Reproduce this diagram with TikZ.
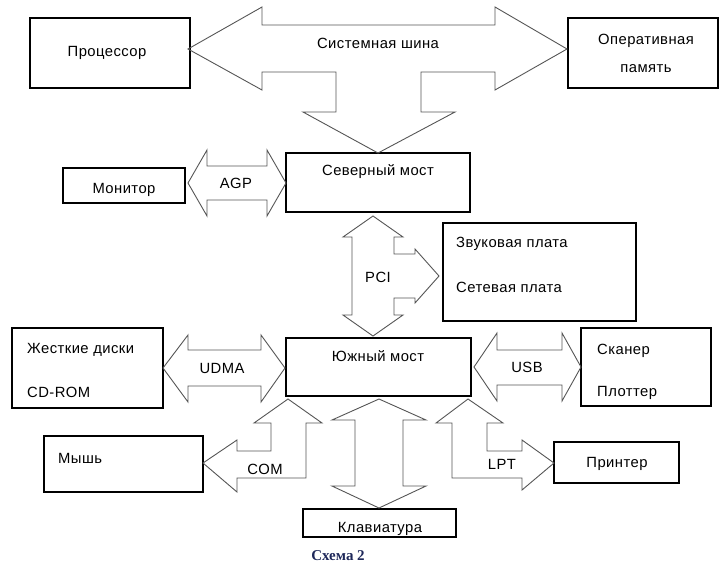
\documentclass[tikz,border=0pt]{standalone}
\usepackage{fontspec}
\setmainfont{Liberation Sans}[LetterSpace=3]
\newfontfamily\capfont{Liberation Serif}
\usetikzlibrary{positioning}
\definecolor{buscol}{RGB}{85,85,85}
\definecolor{capcol}{RGB}{30,40,90}

\begin{document}
\begin{tikzpicture}[x=1pt,y=-1pt,
  box/.style={draw, line width=1.2pt, inner sep=0pt},
  bus/.style={draw=buscol, line width=0.9pt, line join=miter},
  txt/.style={font=\fontsize{14.8}{16}\selectfont, inner sep=0pt},
  ltxt/.style={txt, anchor=west}
]
\useasboundingbox (0,0) rectangle (719,563);

\node[box, minimum width=160pt, minimum height=70pt] (cpu) at (110,53) {};
\node[box, minimum width=150pt, minimum height=70pt] (ram) at (643,53) {};
\node[box, minimum width=184pt, minimum height=59pt] (north) at (378,182.5) {};
\node[box, minimum width=122pt, minimum height=35pt] (mon) at (124,185.5) {};
\node[box, minimum width=193pt, minimum height=98pt] (cards) at (539.5,272) {};
\node[box, minimum width=185pt, minimum height=58pt] (south) at (378.5,367) {};
\node[box, minimum width=151pt, minimum height=80pt] (disks) at (87.5,368) {};
\node[box, minimum width=130pt, minimum height=78pt] (scan) at (646,367) {};
\node[box, minimum width=159pt, minimum height=56pt] (mouse) at (123.5,464) {};
\node[box, minimum width=153pt, minimum height=28pt] (kbd) at (379.5,523) {};
\node[box, minimum width=125pt, minimum height=41pt] (prn) at (616.5,462.5) {};

\draw[bus] (188,49) -- (262,7) -- (262,25) -- (495,25) -- (495,7) -- (567,49) -- (495,90) -- (495,72)
  -- (421,72) -- (421,112) -- (455,112) -- (378,153) -- (303,112) -- (336,112) -- (336,72)
  -- (262,72) -- (262,90) -- cycle;
\draw[bus] (188,183) -- (207,150) -- (207,166) -- (267,166) -- (267,150) -- (286,183)
  -- (267,216) -- (267,200) -- (207,200) -- (207,216) -- cycle;
\draw[bus] (373,216) -- (403,237) -- (394,237) -- (394,254) -- (415,254) -- (415,249) -- (439,276)
  -- (415,303) -- (415,298) -- (394,298) -- (394,315) -- (403,315) -- (373,336) -- (343,315)
  -- (352,315) -- (352,237) -- (343,237) -- cycle;
\draw[bus] (163,368) -- (188,335) -- (188,350) -- (261,350) -- (261,335) -- (285,368)
  -- (261,402) -- (261,386) -- (188,386) -- (188,402) -- cycle;
\draw[bus] (474,367) -- (497,333) -- (497,350) -- (562,350) -- (562,333) -- (581,367)
  -- (562,401) -- (562,385) -- (497,385) -- (497,401) -- cycle;
\draw[bus] (288,399) -- (322,423) -- (306,423) -- (306,478) -- (237,478) -- (237,492) -- (203,463)
  -- (237,440) -- (237,451) -- (271,451) -- (271,423) -- (254,423) -- cycle;
\draw[bus] (379,399) -- (426,420) -- (403,420) -- (403,486) -- (426,486) -- (379,508)
  -- (332,486) -- (355,486) -- (355,420) -- (332,420) -- cycle;
\draw[bus] (468,399) -- (503,423) -- (487,423) -- (487,451) -- (522,451) -- (522,440) -- (554,463)
  -- (522,490) -- (522,478) -- (452,478) -- (452,423) -- (436,423) -- cycle;

\node[txt] (tcpu) at (107,53) {Процессор};
\node[txt] (tram1) at (646,41) {Оперативная};
\node[txt] (tram2) at (646,69) {память};
\node[txt] (tsys) at (378,43) {Системная шина};
\node[txt] (tnorth) at (378,172) {Северный мост};
\node[txt] (tmon) at (124,190) {Монитор};
\node[txt] (tagp) at (236,183) {AGP};
\node[txt] (tpci) at (378,277) {PCI};
\node[ltxt] (tsnd) at (456,244) {Звуковая плата};
\node[ltxt] (tnet) at (456,287) {Сетевая плата};
\node[txt] (tsouth) at (378,356) {Южный мост};
\node[ltxt] (thdd) at (27,350) {Жесткие диски};
\node[ltxt] (tcd) at (27,392) {CD-ROM};
\node[txt] (tudma) at (222,368) {UDMA};
\node[txt] (tusb) at (527,367) {USB};
\node[ltxt] (tscan) at (597,351) {Сканер};
\node[ltxt] (tplot) at (597,393) {Плоттер};
\node[txt] (tcom) at (265,469) {COM};
\node[ltxt] (tmouse) at (58,458) {Мышь};
\node[txt] (tlpt) at (502,464) {LPT};
\node[txt] (tprn) at (617,464) {Принтер};
\node[txt] (tkbd) at (380,529) {Клавиатура};
\node[inner sep=0pt, text=capcol, font=\capfont\bfseries\fontsize{15}{17}\selectfont] (cap) at (338,556) {Схема 2};
\end{tikzpicture}
\end{document}
